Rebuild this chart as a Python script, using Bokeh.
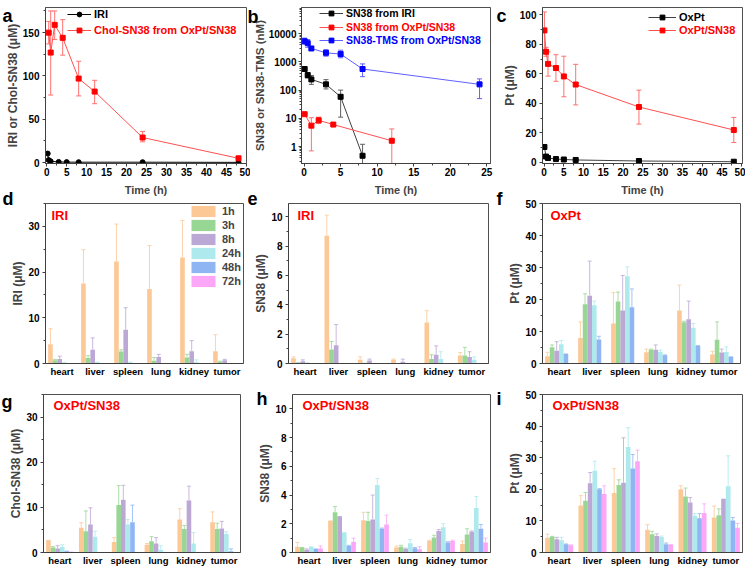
from bokeh.plotting import figure
from bokeh.models import (ColumnDataSource, FactorRange, Range1d, FixedTicker, Whisker, TeeHead,
                          Legend, LegendItem, Label, PrintfTickFormatter, GridBox)
from bokeh.core.properties import value
from bokeh.transform import dodge
from bokeh.embed import file_html
from bokeh.resources import INLINE

FONT = "Liberation Sans"
RED = "#FF0000"
BLUE = "#0000FF"

# ---------------- panel a ----------------
a_iri_t = [0.25, 0.5, 1, 3, 5, 8, 24, 48]
a_iri_v = [10.5, 3.0, 1.5, 0.8, 0.6, 0.5, 0.5, 0.3]
a_chol_t = [0.5, 1, 2, 4, 8, 12, 24, 48]
a_chol_v = [150, 127, 159, 144, 97, 82, 29, 5]
a_chol_lo = [137, 78, 142, 124, 77, 68, 24, 3]
a_chol_hi = [163, 175, 175, 165, 117, 95, 36, 7]

# ---------------- panel b ----------------
b_iri_t = [0.083, 0.5, 1, 3, 5, 8]
b_iri_v = [560, 340, 240, 160, 58, 0.47]
b_iri_lo = [500, 270, 160, 110, 11, 0.15]
b_iri_hi = [620, 420, 330, 235, 100, 1.2]
b_ox_t = [0.083, 1, 2, 4, 12]
b_ox_v = [14, 5.5, 8.5, 6.0, 1.6]
b_ox_lo = [13, 0.7, 6.5, 5.5, 0.25]
b_ox_hi = [15, 10.5, 11, 6.5, 4.2]
b_tms_t = [0.083, 0.5, 1, 3, 5, 8, 24]
b_tms_v = [5400, 4600, 3000, 2100, 1900, 560, 160]
b_tms_lo = [4300, 3300, 2700, 1600, 1400, 300, 50]
b_tms_hi = [7000, 6200, 3300, 2700, 2600, 850, 250]

# ---------------- panel c ----------------
c_t = [0.083, 0.5, 1, 3, 5, 8, 24, 48]
c_ox_v = [10.5, 4.0, 3.0, 2.3, 2.0, 1.7, 1.0, 0.5]
c_oxsn_v = [89.5, 75, 66.8, 64, 58.3, 52.8, 37.6, 22]
c_oxsn_lo = [76, 72, 58.5, 55, 44.5, 39, 26, 13.5]
c_oxsn_hi = [102, 78, 75, 73, 72, 66.5, 49, 30.5]

# ---------------- bar panels ----------------
organs = ["heart", "liver", "spleen", "lung", "kidney", "tumor"]
times = ["1h", "3h", "8h", "24h", "48h", "72h"]
time_colors = ["#FCC896", "#97D793", "#BBA8D5", "#AEE9EE", "#8FB5F3", "#FBA6F6"]

d_vals = {"1h": [4.2, 17.5, 22.3, 16.3, 23.2, 2.7], "3h": [0.7, 1.2, 2.6, 0.6, 1.3, 0.4],
          "8h": [1.0, 3.0, 7.4, 1.4, 2.7, 0.7], "24h": [0.1, 0.2, 0.2, 0.0, 0.3, 0.0],
          "48h": [0, 0, 0, 0, 0, 0], "72h": [0, 0, 0, 0, 0, 0]}
d_tops = {"1h": [7.6, 24.9, 30.5, 25.8, 31.3, 6.3], "3h": [0.9, 1.7, 3.0, 1.3, 2.0, 0.5],
          "8h": [1.6, 5.6, 12.2, 2.0, 5.0, 0.9], "24h": [0.2, 0.3, 0.3, 0.0, 0.8, 0.0],
          "48h": [0, 0, 0, 0, 0, 0], "72h": [0, 0, 0, 0, 0, 0]}

e_vals = {"1h": [0.35, 8.7, 0.25, 0.25, 2.8, 0.55], "3h": [0.05, 0.95, 0.02, 0.0, 0.3, 0.55],
          "8h": [0.15, 1.25, 0.2, 0.12, 0.6, 0.45], "24h": [0.05, 0, 0, 0, 0.3, 0.25],
          "48h": [0, 0, 0, 0, 0, 0], "72h": [0, 0, 0, 0, 0, 0]}
e_tops = {"1h": [0.45, 10.1, 0.45, 0.3, 3.6, 0.75], "3h": [0.05, 1.5, 0.02, 0.0, 0.6, 1.1],
          "8h": [0.25, 2.65, 0.3, 0.3, 1.2, 0.8], "24h": [0.05, 0, 0, 0, 0.8, 0.45],
          "48h": [0, 0, 0, 0, 0, 0], "72h": [0, 0, 0, 0, 0, 0]}

f_vals = {"1h": [2.3, 8.0, 12.5, 3.5, 16.6, 2.8], "3h": [5.1, 18.5, 19.4, 4.3, 12.9, 7.4],
          "8h": [4.0, 21.2, 16.6, 4.3, 13.8, 3.4], "24h": [6.0, 18.2, 27.3, 3.7, 11.2, 3.6],
          "48h": [3.0, 7.5, 17.6, 2.6, 5.5, 2.0], "72h": [0, 0, 0, 0, 0, 0]}
f_tops = {"1h": [3.5, 13.0, 22.2, 4.5, 24.5, 3.8], "3h": [5.8, 21.8, 22.3, 4.5, 13.2, 13.0],
          "8h": [6.8, 32.0, 27.5, 5.8, 19.5, 4.5], "24h": [7.2, 19.5, 30.2, 4.2, 12.5, 5.2],
          "48h": [3.0, 8.5, 23.3, 2.7, 5.6, 2.1], "72h": [0, 0, 0, 0, 0, 0]}

g_vals = {"1h": [2.7, 5.5, 2.3, 1.7, 7.3, 6.7], "3h": [1.1, 4.7, 10.5, 2.5, 5.2, 5.2],
          "8h": [0.9, 6.2, 11.7, 2.0, 11.5, 5.3], "24h": [1.2, 3.5, 6.2, 0.6, 2.0, 4.1],
          "48h": [0.3, 0, 6.7, 0, 0, 0.3], "72h": [0.1, 0, 0, 0, 0, 0]}
g_tops = {"1h": [2.7, 6.6, 3.3, 2.0, 9.7, 9.0], "3h": [1.3, 9.2, 14.8, 3.5, 6.0, 6.5],
          "8h": [1.5, 9.9, 14.9, 3.3, 14.7, 6.9], "24h": [1.7, 4.7, 7.3, 1.5, 4.4, 4.6],
          "48h": [0.3, 0, 10.5, 0, 0, 0.8], "72h": [0.1, 0, 0, 0, 0, 0]}

h_vals = {"1h": [0.4, 2.2, 2.25, 0.35, 0.8, 0.6], "3h": [0.35, 2.8, 2.2, 0.4, 1.05, 1.25],
          "8h": [0.2, 2.5, 2.3, 0.25, 1.5, 1.45], "24h": [0.38, 1.35, 4.7, 0.65, 1.75, 3.1],
          "48h": [0.25, 0.45, 1.65, 0.3, 0.7, 1.65], "72h": [0.28, 0.75, 1.95, 0.22, 0.8, 0.7]}
h_tops = {"1h": [0.7, 2.2, 2.8, 0.45, 0.85, 0.8], "3h": [0.35, 3.2, 2.8, 0.5, 1.2, 1.65],
          "8h": [0.25, 2.5, 4.0, 0.3, 1.6, 1.5], "24h": [0.4, 1.4, 5.15, 0.9, 2.0, 3.9],
          "48h": [0.25, 0.5, 1.7, 0.35, 0.75, 1.95], "72h": [0.45, 1.0, 2.6, 0.4, 0.85, 1.0]}

i_vals = {"1h": [4.7, 14.9, 18.8, 7.2, 20.0, 11.1], "3h": [5.0, 16.4, 21.4, 5.8, 17.7, 11.8],
          "8h": [4.2, 21.9, 22.1, 5.2, 15.8, 16.9], "24h": [3.9, 25.9, 33.4, 4.9, 11.6, 21.0],
          "48h": [2.6, 20.0, 26.6, 2.6, 10.8, 10.1], "72h": [2.3, 18.5, 28.9, 2.4, 12.5, 7.8]}
i_tops = {"1h": [5.8, 18.0, 26.5, 8.8, 21.1, 14.7], "3h": [5.1, 19.0, 23.0, 6.7, 20.4, 13.8],
          "8h": [4.8, 25.3, 36.3, 5.9, 17.4, 16.9], "24h": [4.8, 28.9, 39.5, 5.2, 12.3, 30.6],
          "48h": [2.7, 20.2, 31.0, 3.0, 12.3, 11.1], "72h": [2.4, 21.1, 32.4, 2.5, 15.4, 9.2]}

panel_letters = ["a", "b", "c", "d", "e", "f", "g", "h", "i"]

BW = 0.14
FRAME_H = {}


def make_fig(w, h, mbl, mbr, mbt, mbb, x_range, y_range, y_axis_type="linear"):
    p = figure(width=w, height=h, x_range=x_range, y_range=y_range, y_axis_type=y_axis_type,
               output_backend="svg", toolbar_location=None,
               min_border_left=mbl, min_border_right=mbr, min_border_top=mbt, min_border_bottom=mbb)
    p.frame_align = False
    p.outline_line_color = "#505050"
    p.outline_line_width = 1
    p.outline_line_alpha = 1
    p.xgrid.visible = False
    p.ygrid.visible = False
    p.background_fill_color = "white"
    p.border_fill_color = "white"
    for ax in (p.xaxis[0], p.yaxis[0]):
        ax.axis_line_color = "#404040"
        ax.major_tick_line_color = "#404040"
        ax.minor_tick_line_color = "#404040"
        ax.major_tick_in = 0
        ax.major_tick_out = 3
        ax.minor_tick_in = 0
        ax.minor_tick_out = 2
        ax.major_label_text_font = FONT
        ax.major_label_text_font_style = "bold"
        ax.major_label_text_font_size = "10px"
        ax.major_label_text_color = "black"
        ax.axis_label_text_font = FONT
        ax.axis_label_text_font_style = "bold"
    p.xaxis.major_label_standoff = 1
    p.xaxis.axis_label_standoff = 5
    p.xaxis.axis_label_text_font_size = "11px"
    p.yaxis.major_label_standoff = 3
    p.yaxis.axis_label_standoff = 0
    p.yaxis.axis_label_text_font_size = "12px"
    FRAME_H[p.id] = h - mbt - mbb
    return p


def inner_title(p, txt, x):
    p.add_layout(Label(x=x, y=FRAME_H[p.id] - 4, x_units="screen", y_units="screen", text=txt,
                       text_font=FONT, text_font_style="bold", text_font_size="13px",
                       text_baseline="top", text_color=RED))


def add_leg(p, renderers, label, color, x, yc, gw=24, fs="11px"):
    leg = Legend(items=[LegendItem(label=label, renderers=renderers)],
                 location=(x, FRAME_H[p.id] - yc - 6), label_text_color=color,
                 label_text_font=FONT, label_text_font_style="bold", label_text_font_size=fs,
                 glyph_height=12, glyph_width=gw, label_height=12, label_standoff=3,
                 padding=0, margin=0, spacing=0, border_line_color=None,
                 background_fill_alpha=0)
    p.add_layout(leg)


def series(p, t, v, lo, hi, color, line_color, marker, size, err_color):
    src = ColumnDataSource(dict(t=t, v=v))
    ln = p.line("t", "v", source=src, line_color=line_color, line_width=1)
    if lo is not None:
        esrc = ColumnDataSource(dict(t=t, lo=lo, hi=hi))
        p.add_layout(Whisker(base="t", lower="lo", upper="hi", source=esrc, line_color=err_color,
                             line_width=1,
                             upper_head=TeeHead(size=5, line_color=err_color, line_width=1),
                             lower_head=TeeHead(size=5, line_color=err_color, line_width=1)))
    sc = p.scatter("t", "v", source=src, marker=marker, size=size, fill_color=color,
                   line_color=color)
    return [ln, sc]


# ================= Row 1 =================
R1H, R1T, R1B = 198, 7, 33

pa = make_fig(250, R1H, 45, 4, R1T, R1B, Range1d(-0.3, 50), Range1d(-1, 179))
pa.xaxis.ticker = FixedTicker(ticks=[0, 5, 10, 15, 20, 25, 30, 35, 40, 45, 50],
                              minor_ticks=[2.5 + 5 * k for k in range(10)])
pa.yaxis.ticker = FixedTicker(ticks=[0, 50, 100, 150], minor_ticks=[25, 75, 125, 175])
pa.xaxis.axis_label = "Time (h)"
pa.yaxis.axis_label = "IRI or Chol-SN38 (\u03bcM)"
ra1 = series(pa, a_iri_t, a_iri_v, None, None, "black", "black", "circle", 5, "black")
ra2 = series(pa, a_chol_t, a_chol_v, a_chol_lo, a_chol_hi, RED, "#FF5050", "square", 5, "#FF7070")
add_leg(pa, ra1, "IRI", "black", 22, 9)
add_leg(pa, ra2, "Chol-SN38 from OxPt/SN38", RED, 22, 25)

pb = make_fig(246, R1H, 40, 6, R1T, R1B, Range1d(-0.35, 25.5), Range1d(0.25, 85000), y_axis_type="log")
pb.yaxis.major_label_standoff = 2
pb.yaxis.axis_label_text_font_size = "11.5px"
pb.xaxis.ticker = FixedTicker(ticks=[0, 5, 10, 15, 20, 25], minor_ticks=[2.5 + 5 * k for k in range(5)])
pb.yaxis.ticker = FixedTicker(ticks=[1, 10, 100, 1000, 10000],
                              minor_ticks=[m * 10 ** e for e in range(-1, 5) for m in range(2, 10)])
pb.yaxis.formatter = PrintfTickFormatter(format="%d")
pb.xaxis.axis_label = "Time (h)"
pb.yaxis.axis_label = "SN38 or SN38-TMS (nM)"
rb1 = series(pb, b_iri_t, b_iri_v, b_iri_lo, b_iri_hi, "black", "#404040", "square", 5, "#606060")
rb2 = series(pb, b_ox_t, b_ox_v, b_ox_lo, b_ox_hi, RED, "#FF5050", "square", 5, "#FF7070")
rb3 = series(pb, b_tms_t, b_tms_v, b_tms_lo, b_tms_hi, BLUE, "#6060FF", "square", 5, "#6060FF")
add_leg(pb, rb1, "SN38 from IRI", "black", 18, 8, fs="10.5px")
add_leg(pb, rb2, "SN38 from OxPt/SN38", RED, 18, 22, fs="10.5px")
add_leg(pb, rb3, "SN38-TMS from OxPt/SN38", BLUE, 18, 35, fs="10.5px")

pc = make_fig(249, R1H, 46, 3, R1T, R1B, Range1d(-0.4, 50.2), Range1d(-0.7, 105))
pc.xaxis.ticker = FixedTicker(ticks=[0, 5, 10, 15, 20, 25, 30, 35, 40, 45, 50],
                              minor_ticks=[2.5 + 5 * k for k in range(10)])
pc.yaxis.ticker = FixedTicker(ticks=[0, 20, 40, 60, 80, 100], minor_ticks=[10, 30, 50, 70, 90])
pc.xaxis.axis_label = "Time (h)"
pc.yaxis.axis_label = "Pt (\u03bcM)"
rc1 = series(pc, c_t, c_ox_v, None, None, "black", "#404040", "square", 5, "black")
rc2 = series(pc, c_t, c_oxsn_v, c_oxsn_lo, c_oxsn_hi, RED, "#FF5050", "square", 5, "#FF7070")
add_leg(pc, rc1, "OxPt", "black", 106, 12, gw=28)
add_leg(pc, rc2, "OxPt/SN38", RED, 106, 25, gw=28)


def bar_panel(w, h, mbl, mbr, mbt, mbb, ymax, ticks, minor, ylabel, vals, tops, title, tx, legend=False):
    p = make_fig(w, h, mbl, mbr, mbt, mbb, FactorRange(factors=organs), Range1d(0, ymax))
    p.xaxis.major_tick_out = 0
    p.xaxis.minor_tick_out = 0
    p.xaxis.major_label_standoff = 2
    p.xaxis.major_label_text_font_size = "9.5px"
    p.yaxis.ticker = FixedTicker(ticks=ticks, minor_ticks=minor)
    p.yaxis.axis_label = ylabel
    items = []
    for k, t in enumerate(times):
        off = (k - 2.5) * BW
        src = ColumnDataSource(dict(organ=organs, val=vals[t], top=tops[t]))
        col = time_colors[k]
        r = p.vbar(x=dodge("organ", off, range=p.x_range), top="val", width=BW, source=src,
                   fill_color=col, line_color=None)
        p.segment(x0=dodge("organ", off, range=p.x_range), y0="val",
                  x1=dodge("organ", off, range=p.x_range), y1="top", source=src,
                  line_color=col, line_width=1, line_alpha=0.8)
        p.scatter(x=dodge("organ", off, range=p.x_range), y="top", source=src, marker="dash",
                  size=4, line_color=col, line_alpha=0.8)
        items.append(LegendItem(label=t, renderers=[r]))
    if legend:
        leg = Legend(items=items, location="top_right", label_text_font=FONT,
                     label_text_font_style="bold", label_text_font_size="11px",
                     glyph_width=30, glyph_height=14, label_height=14, label_standoff=4,
                     padding=1, margin=1, spacing=0, border_line_color=None,
                     background_fill_alpha=0)
        p.add_layout(leg)
    inner_title(p, title, tx)
    return p


R2H, R2T, R2B = 182, 5, 17
pd_ = bar_panel(250, R2H, 45, 7, R2T, R2B, 35, [0, 10, 20, 30], [5, 15, 25, 35], "IRI (\u03bcM)",
                d_vals, d_tops, "IRI", 6, legend=True)
pe = bar_panel(246, R2H, 38, 8, R2T, R2B, 10.9, [0, 2, 4, 6, 8, 10], [1, 3, 5, 7, 9], "SN38 (\u03bcM)",
               e_vals, e_tops, "IRI", 9)
pf = bar_panel(249, R2H, 46, 5, R2T, R2B, 50, [0, 10, 20, 30, 40, 50], [5, 15, 25, 35, 45], "Pt (\u03bcM)",
               f_vals, f_tops, "OxPt", 8)

R3H, R3T, R3B = 188, 14, 15
pg = bar_panel(250, R3H, 43, 10, R3T, R3B, 35, [0, 10, 20, 30], [5, 15, 25, 35], "Chol-SN38 (\u03bcM)",
               g_vals, g_tops, "OxPt/SN38", 10)
ph = bar_panel(246, R3H, 42, 6, R3T, R3B, 11, [0, 2, 4, 6, 8, 10], [1, 3, 5, 7, 9], "SN38 (\u03bcM)",
               h_vals, h_tops, "OxPt/SN38", 10)
pi = bar_panel(249, R3H, 46, 3, R3T, R3B, 50, [0, 10, 20, 30, 40, 50], [5, 15, 25, 35, 45], "Pt (\u03bcM)",
               i_vals, i_tops, "OxPt/SN38", 10)

# ---- transparent overlay carrying the panel letters (page pixel layout) ----
ov = figure(width=745, height=568, x_range=Range1d(0, 745), y_range=Range1d(568, 0),
            output_backend="svg", toolbar_location=None, x_axis_location=None, y_axis_location=None,
            min_border=0)
ov.frame_align = False
ov.xgrid.visible = False
ov.ygrid.visible = False
ov.outline_line_color = None
ov.background_fill_alpha = 0
ov.border_fill_alpha = 0
letter_layout = ColumnDataSource(dict(txt=panel_letters,
                                      px=[2, 247, 496, 2, 247, 496, 1, 256, 496],
                                      py=[15, 16, 15, 198, 198, 198, 401, 398, 398]))
ov.text(x="px", y="py", text="txt", source=letter_layout, text_font=value(FONT),
        text_font_style="bold", text_font_size="18px", text_baseline="alphabetic",
        text_align="left", text_color="black")

layout = GridBox(children=[(pa, 0, 0), (pb, 0, 1), (pc, 0, 2),
                           (pd_, 1, 0), (pe, 1, 1), (pf, 1, 2),
                           (pg, 2, 0), (ph, 2, 1), (pi, 2, 2),
                           (ov, 0, 0, 3, 3)], spacing=0)

open("out.html", "w").write(file_html(layout, INLINE))
